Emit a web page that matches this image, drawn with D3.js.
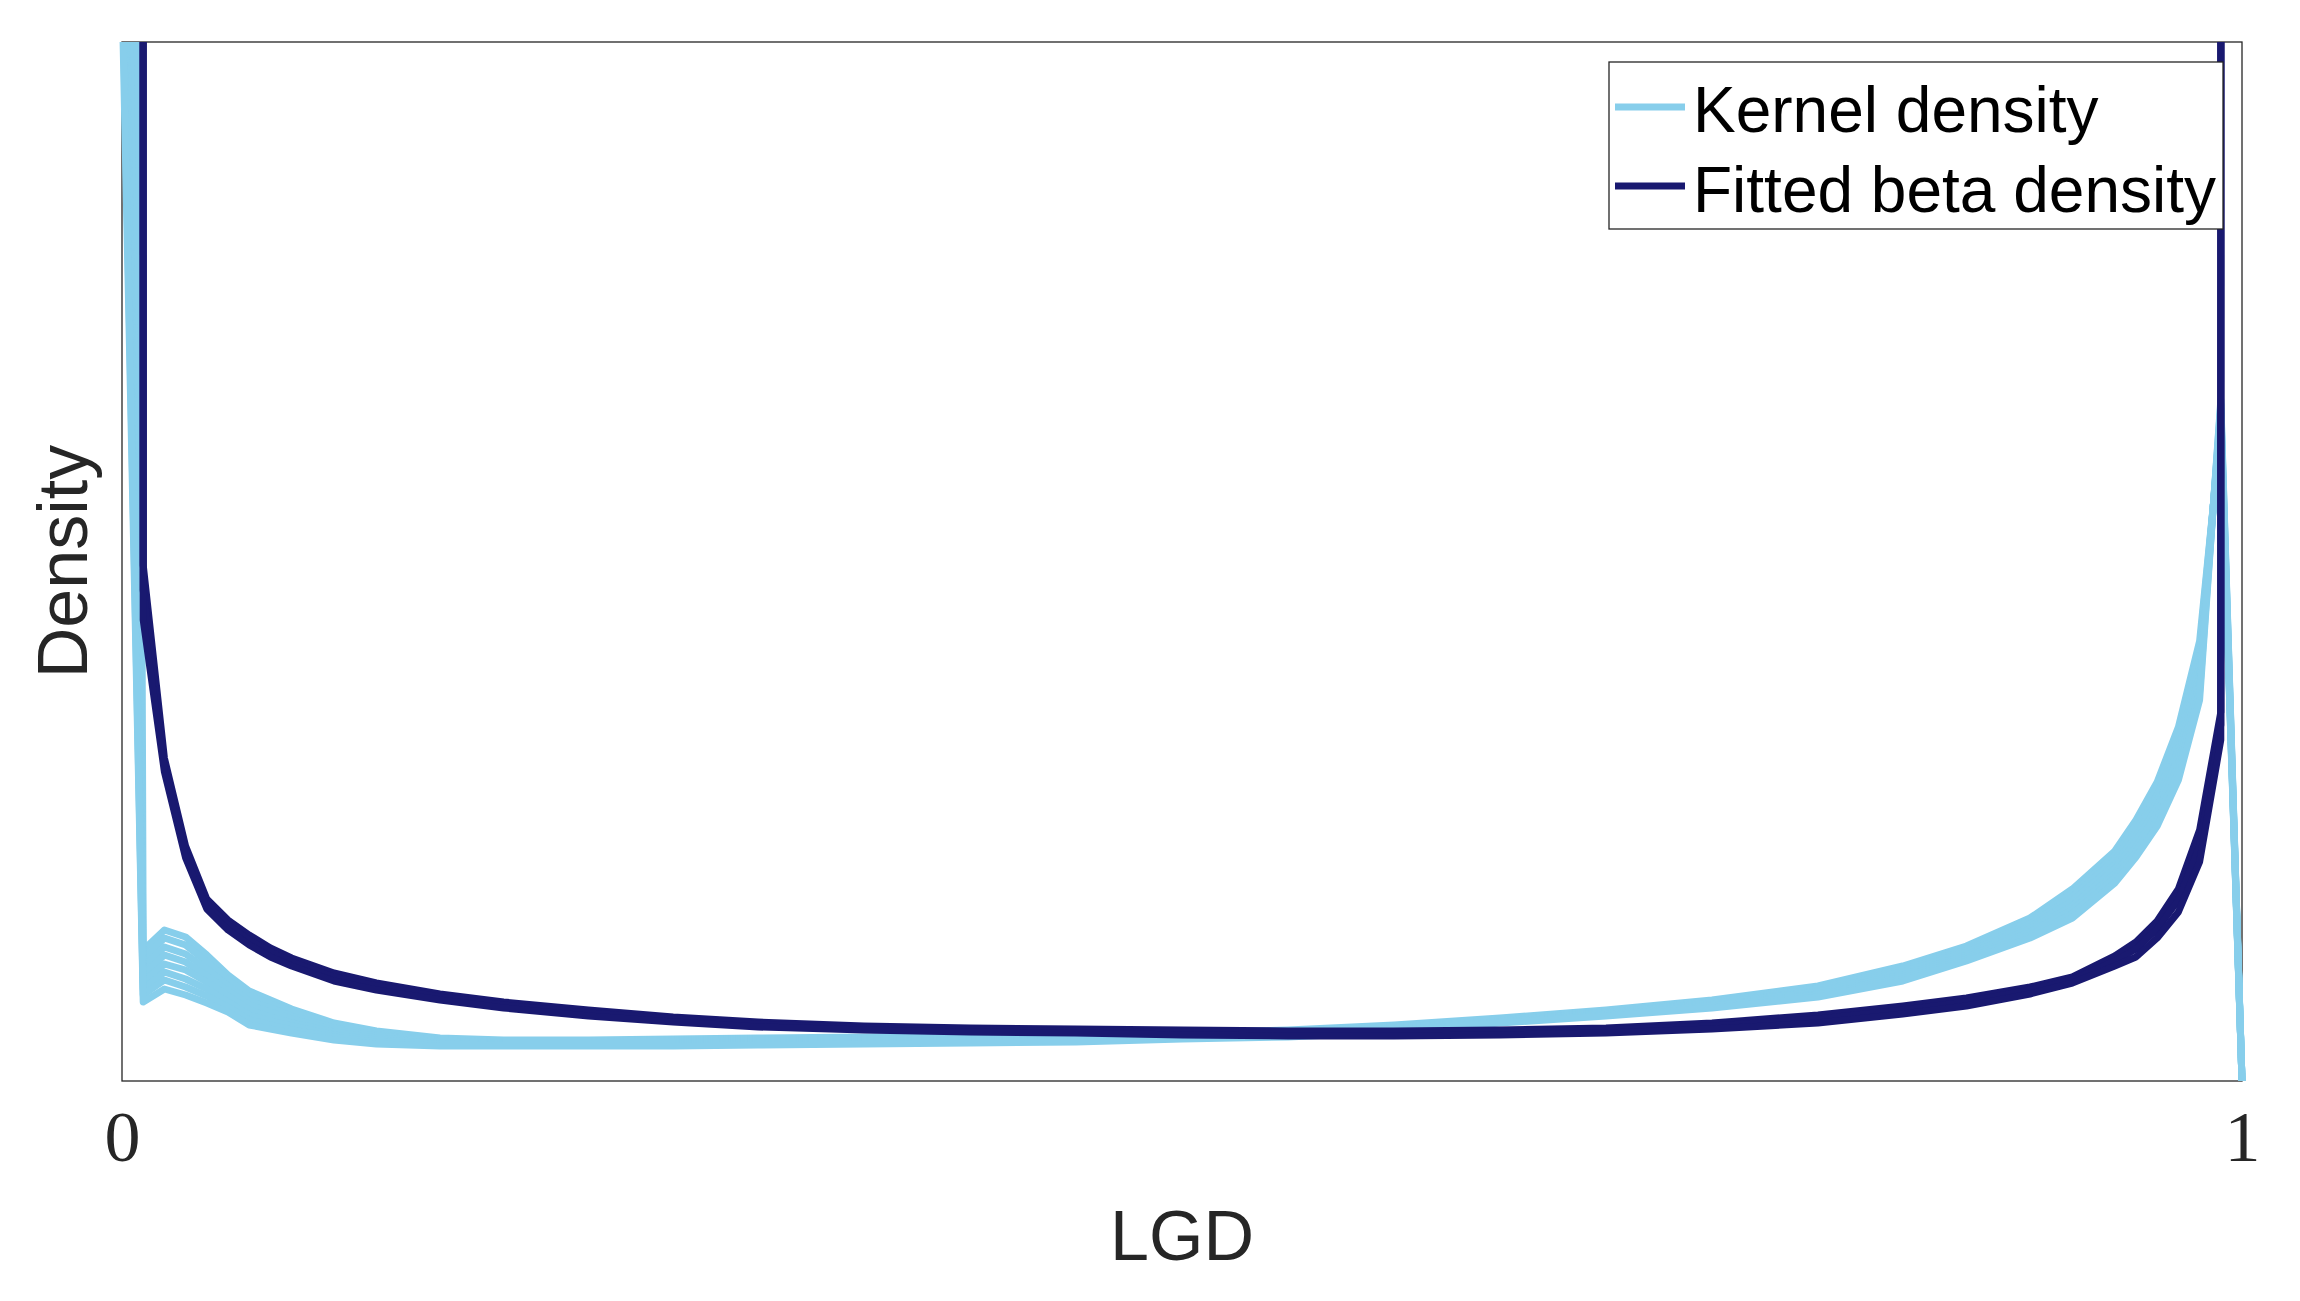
<!DOCTYPE html>
<html>
<head>
<meta charset="utf-8">
<script src="https://cdn.jsdelivr.net/npm/d3@7"></script>
<style>
  html, body { margin: 0; padding: 0; background: #fff; }
  svg { display: block; }
</style>
</head>
<body>
<div id="chart"></div>
<script>
// ---- data ----
const lgdGrid = [0, 0.01, 0.02, 0.03, 0.04, 0.05, 0.06, 0.07, 0.08, 0.10, 0.12, 0.15, 0.18, 0.22, 0.26, 0.30, 0.35, 0.40, 0.45, 0.50, 0.55, 0.60, 0.65, 0.70, 0.75, 0.80, 0.84, 0.87, 0.90, 0.92, 0.94, 0.95, 0.96, 0.97, 0.98, 0.99, 1.00];

// kernel density estimates (several overlapping curves)
const kernel1 = [60.81, 1.31, 1.51, 1.44, 1.26, 1.06, 0.90, 0.81, 0.72, 0.58, 0.50, 0.43, 0.41, 0.41, 0.42, 0.43, 0.44, 0.45, 0.46, 0.48, 0.51, 0.56, 0.63, 0.71, 0.81, 0.95, 1.15, 1.35, 1.63, 1.92, 2.30, 2.61, 2.99, 3.54, 4.40, 6.50, 0];
const kernel2 = [22.0, 1.22, 1.43, 1.36, 1.19, 1.01, 0.85, 0.77, 0.69, 0.56, 0.48, 0.42, 0.40, 0.40, 0.41, 0.42, 0.43, 0.44, 0.45, 0.47, 0.50, 0.55, 0.62, 0.70, 0.80, 0.93, 1.13, 1.33, 1.60, 1.88, 2.25, 2.56, 2.93, 3.46, 4.32, 6.54, 0];
const kernel3 = [16.31, 1.14, 1.34, 1.27, 1.12, 0.95, 0.80, 0.73, 0.65, 0.53, 0.46, 0.41, 0.39, 0.39, 0.40, 0.41, 0.42, 0.43, 0.44, 0.46, 0.49, 0.54, 0.61, 0.69, 0.79, 0.92, 1.11, 1.31, 1.57, 1.84, 2.21, 2.50, 2.86, 3.39, 4.23, 6.59, 0];
const kernel4 = [13.31, 1.06, 1.26, 1.19, 1.05, 0.90, 0.76, 0.69, 0.62, 0.51, 0.45, 0.40, 0.38, 0.38, 0.39, 0.40, 0.41, 0.42, 0.43, 0.45, 0.48, 0.53, 0.61, 0.68, 0.78, 0.90, 1.09, 1.29, 1.54, 1.80, 2.16, 2.45, 2.80, 3.31, 4.15, 6.63, 0];
const kernel5 = [12.4, 0.99, 1.17, 1.11, 0.99, 0.85, 0.71, 0.64, 0.58, 0.49, 0.43, 0.39, 0.38, 0.38, 0.38, 0.39, 0.40, 0.41, 0.42, 0.45, 0.47, 0.52, 0.60, 0.68, 0.77, 0.89, 1.06, 1.26, 1.52, 1.75, 2.12, 2.40, 2.74, 3.24, 4.06, 6.68, 0];
const kernel6 = [11.61, 0.92, 1.09, 1.02, 0.92, 0.79, 0.66, 0.60, 0.55, 0.46, 0.41, 0.38, 0.37, 0.37, 0.37, 0.38, 0.39, 0.40, 0.41, 0.44, 0.46, 0.51, 0.59, 0.67, 0.76, 0.87, 1.04, 1.24, 1.49, 1.71, 2.07, 2.34, 2.68, 3.16, 3.98, 6.72, 0];
const kernel7 = [11.2, 0.86, 1.01, 0.94, 0.85, 0.74, 0.61, 0.56, 0.51, 0.44, 0.39, 0.37, 0.36, 0.36, 0.36, 0.37, 0.38, 0.39, 0.40, 0.43, 0.45, 0.50, 0.59, 0.66, 0.75, 0.86, 1.02, 1.22, 1.46, 1.67, 2.03, 2.29, 2.61, 3.09, 3.89, 6.77, 0];
const kernel8 = [10.91, 0.79, 0.92, 0.86, 0.78, 0.69, 0.56, 0.52, 0.48, 0.41, 0.37, 0.35, 0.35, 0.35, 0.35, 0.36, 0.37, 0.38, 0.39, 0.42, 0.44, 0.49, 0.58, 0.65, 0.73, 0.84, 1.00, 1.20, 1.43, 1.63, 1.98, 2.24, 2.55, 3.01, 3.81, 6.81, 0];

// fitted beta densities (several overlapping curves; huge at both ends)
const beta1 = [2000, 5.16, 3.23, 2.35, 1.82, 1.61, 1.46, 1.33, 1.23, 1.08, 0.98, 0.87, 0.79, 0.71, 0.64, 0.59, 0.55, 0.53, 0.52, 0.51, 0.50, 0.50, 0.51, 0.53, 0.58, 0.66, 0.75, 0.83, 0.94, 1.04, 1.25, 1.39, 1.60, 1.92, 2.51, 3.69, 2000];
const beta2 = [2000, 4.91, 3.16, 2.29, 1.77, 1.56, 1.41, 1.29, 1.19, 1.04, 0.95, 0.84, 0.76, 0.68, 0.62, 0.57, 0.53, 0.51, 0.50, 0.49, 0.48, 0.48, 0.49, 0.51, 0.55, 0.62, 0.71, 0.79, 0.91, 1.01, 1.20, 1.32, 1.52, 1.81, 2.35, 3.56, 2000];
const beta3 = [2000, 4.61, 3.09, 2.23, 1.72, 1.51, 1.36, 1.24, 1.15, 1.00, 0.91, 0.81, 0.73, 0.65, 0.59, 0.54, 0.51, 0.49, 0.48, 0.46, 0.45, 0.45, 0.46, 0.48, 0.52, 0.58, 0.67, 0.75, 0.87, 0.98, 1.15, 1.24, 1.43, 1.69, 2.19, 3.41, 2000];

const kernelSeries = [kernel1, kernel2, kernel3, kernel4, kernel5, kernel6, kernel7, kernel8];
const betaSeries = [beta1, beta2, beta3];

const xTickValues = [0, 1];
const xTickLabels = ["0", "1"];
const legendLabels = ["Kernel density", "Fitted beta density"];
const xLabel = "LGD";
const yLabel = "Density";

// ---- layout ----
const W = 2300, H = 1301;
const plot = { left: 122, right: 2242, top: 42, bottom: 1081 };
const colKernel = "#87CEEB";
const colBeta = "#191970";
const axisCol = "#262626";
const lineW = 7;

const svg = d3.select("#chart").append("svg")
  .attr("width", W).attr("height", H)
  .attr("viewBox", `0 0 ${W} ${H}`);

svg.append("rect").attr("width", W).attr("height", H).attr("fill", "#fff");

const x = d3.scaleLinear().domain([0, 1]).range([plot.left, plot.right]);
const y = d3.scaleLinear().domain([0, 10.39]).range([plot.bottom, plot.top]);

// axes box
svg.append("rect")
  .attr("x", plot.left).attr("y", plot.top)
  .attr("width", plot.right - plot.left).attr("height", plot.bottom - plot.top)
  .attr("fill", "none").attr("stroke", axisCol).attr("stroke-width", 1.3);

// x axis (ticks at 0 and 1, LaTeX-style labels)
const xAxis = d3.axisBottom(x).tickValues(xTickValues)
  .tickFormat((d, i) => xTickLabels[i]).tickSize(0).tickPadding(0);
const gx = svg.append("g").attr("transform", `translate(0,${plot.bottom})`).call(xAxis);
gx.select(".domain").remove();
gx.selectAll("text")
  .attr("y", 80).attr("dy", null)
  .attr("font-family", "'Liberation Serif', 'DejaVu Serif', serif")
  .attr("font-size", 72).attr("fill", axisCol);

// clip
svg.append("clipPath").attr("id", "clip")
  .append("rect")
  .attr("x", plot.left - 5).attr("y", plot.top)
  .attr("width", plot.right - plot.left + 10).attr("height", plot.bottom - plot.top + 6);

const line = d3.line()
  .x((d, i) => x(lgdGrid[i]))
  .y(d => y(d));

const gLines = svg.append("g").attr("clip-path", "url(#clip)");

gLines.selectAll("path.kernel").data(kernelSeries).join("path")
  .attr("class", "kernel")
  .attr("d", d => line(d))
  .attr("fill", "none").attr("stroke", colKernel)
  .attr("stroke-width", lineW).attr("stroke-linejoin", "round");

gLines.selectAll("path.beta").data(betaSeries).join("path")
  .attr("class", "beta")
  .attr("d", d => line(d))
  .attr("fill", "none").attr("stroke", colBeta)
  .attr("stroke-width", lineW).attr("stroke-linejoin", "round");

// axis labels
svg.append("text")
  .attr("x", (plot.left + plot.right) / 2).attr("y", 1260)
  .attr("text-anchor", "middle")
  .attr("font-family", "'Liberation Sans', Arial, Helvetica, sans-serif")
  .attr("font-size", 70).attr("fill", axisCol)
  .text(xLabel);

svg.append("text")
  .attr("transform", `translate(87,${(plot.top + plot.bottom) / 2}) rotate(-90)`)
  .attr("text-anchor", "middle")
  .attr("font-family", "'Liberation Sans', Arial, Helvetica, sans-serif")
  .attr("font-size", 70).attr("fill", axisCol)
  .text(yLabel);

// legend
const leg = svg.append("g");
leg.append("rect")
  .attr("x", 1609).attr("y", 62).attr("width", 614).attr("height", 167)
  .attr("fill", "#fff").attr("stroke", axisCol).attr("stroke-width", 1.3);
const legColors = [colKernel, colBeta];
const legLineY = [107, 186];
const legTextY = [132, 212];
legendLabels.forEach((lab, i) => {
  leg.append("line")
    .attr("x1", 1615).attr("x2", 1685)
    .attr("y1", legLineY[i]).attr("y2", legLineY[i])
    .attr("stroke", legColors[i]).attr("stroke-width", lineW);
  leg.append("text")
    .attr("x", 1693).attr("y", legTextY[i])
    .attr("font-family", "'Liberation Sans', Arial, Helvetica, sans-serif")
    .attr("font-size", 64).attr("fill", "#000")
    .text(lab);
});
</script>
</body>
</html>
